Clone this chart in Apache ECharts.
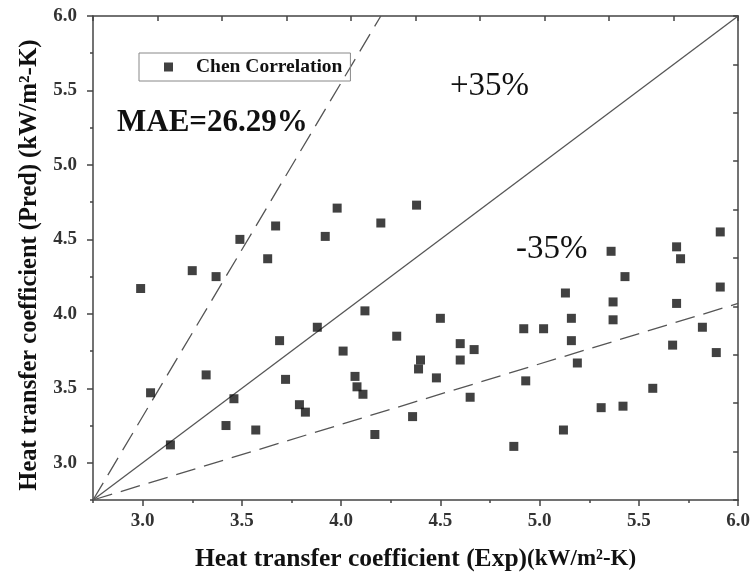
<!DOCTYPE html>
<html>
<head>
<meta charset="utf-8">
<title>Chen Correlation</title>
<script src="https://cdn.jsdelivr.net/npm/echarts@6/dist/echarts.min.js"></script>
<style>
    html, body { margin: 0; padding: 0; background: #fff; }
    #chart { width: 753px; height: 577px; }
</style>
</head>
<body>
<div id="chart"></div>
<script>
const expX = [
    2.99, 3.25, 3.37, 3.63, 3.04, 3.32, 3.14, 3.46, 3.42, 3.57,
    3.69, 3.72, 3.88, 3.79, 3.82, 4.01, 4.12, 4.07, 4.08, 4.11,
    4.17, 4.28, 4.36, 4.40, 4.39, 4.50, 4.48, 4.60, 4.60, 4.67,
    4.65, 4.92, 4.93, 5.02, 4.87, 5.13, 5.16, 5.16, 5.19, 5.12,
    5.37, 5.37, 5.31, 5.43, 5.42, 5.57, 5.69, 5.67, 5.82, 5.91,
    5.89, 4.38, 5.36, 5.69, 5.71, 5.91, 3.49, 3.67, 3.92, 3.98,
    4.20
];
const predY = [
    4.17, 4.29, 4.25, 4.37, 3.47, 3.59, 3.12, 3.43, 3.25, 3.22,
    3.82, 3.56, 3.91, 3.39, 3.34, 3.75, 4.02, 3.58, 3.51, 3.46,
    3.19, 3.85, 3.31, 3.69, 3.63, 3.97, 3.57, 3.80, 3.69, 3.76,
    3.44, 3.90, 3.55, 3.90, 3.11, 4.14, 3.97, 3.82, 3.67, 3.22,
    4.08, 3.96, 3.37, 4.25, 3.38, 3.50, 4.07, 3.79, 3.91, 4.18,
    3.74, 4.73, 4.42, 4.45, 4.37, 4.55, 4.50, 4.59, 4.52, 4.71,
    4.61
];

// reference lines (end points as drawn)
const parityLine = [[2.75, 2.75], [6.0, 6.0]];
const upperLine = [[2.75, 2.75], [4.2, 6.0]];
const lowerLine = [[2.75, 2.75], [6.0, 4.07]];

const majorTicks = [3.0, 3.5, 4.0, 4.5, 5.0, 5.5, 6.0];
const minorTicks = [2.75, 3.25, 3.75, 4.25, 4.75, 5.25, 5.75];

document.addEventListener("DOMContentLoaded", () => {
    const chart = echarts.init(document.getElementById('chart'), null, { renderer: 'canvas' });

    const serif = '"Liberation Serif", "DejaVu Serif", serif';
    const axisColor = '#444';

    const mainAxis = (pos) => ({
        type: 'value',
        position: pos,
        min: 2.75,
        max: 6.0,
        axisLine: { show: true, onZero: false, lineStyle: { color: axisColor, width: 1.5 } },
        axisTick: { show: true, inside: false, length: 6, customValues: majorTicks, lineStyle: { color: axisColor, width: 1.5 } },
        axisLabel: {
            show: true,
            customValues: majorTicks,
            formatter: (v) => v.toFixed(1),
            fontFamily: serif,
            fontWeight: 'bold',
            fontSize: 19,
            color: '#333',
            margin: pos === 'left' ? 16 : 12
        },
        splitLine: { show: false }
    });

    const minorAxis = (pos) => ({
        type: 'value',
        position: pos,
        min: 2.75,
        max: 6.0,
        axisLine: { show: false, onZero: false },
        axisTick: { show: true, inside: false, length: 3, customValues: minorTicks, lineStyle: { color: axisColor, width: 1.5 } },
        axisLabel: { show: false },
        splitLine: { show: false }
    });

    // top / right frame: 10 equal divisions, ticks inward
    const frameAxis = (pos) => ({
        type: 'value',
        position: pos,
        min: 0,
        max: 10,
        interval: 1,
        axisLine: { show: true, onZero: false, lineStyle: { color: axisColor, width: 1.5 } },
        axisTick: { show: true, inside: true, length: 5, lineStyle: { color: axisColor, width: 1.5 } },
        axisLabel: { show: false },
        splitLine: { show: false }
    });

    const xMain = mainAxis('bottom');
    xMain.name = '{a|Heat transfer coefficient (Exp)}{b|(kW/m²-K)}';
    xMain.nameLocation = 'middle';
    xMain.nameGap = 46;
    xMain.nameTextStyle = {
        fontFamily: serif,
        fontWeight: 'bold',
        color: '#111',
        rich: {
            a: { fontFamily: serif, fontWeight: 'bold', fontSize: 25.5, color: '#111' },
            b: { fontFamily: serif, fontWeight: 'bold', fontSize: 23, color: '#111' }
        }
    };

    const yMain = mainAxis('left');
    yMain.name = '{a|Heat transfer coefficient (Pred)}  {b|(kW/m²-K)}';
    yMain.nameLocation = 'middle';
    yMain.nameGap = 40;
    yMain.nameTextStyle = {
        fontFamily: serif,
        fontWeight: 'bold',
        color: '#111',
        padding: [0, 14, 0, 0],
        rich: {
            a: { fontFamily: serif, fontWeight: 'bold', fontSize: 24.5, color: '#111' },
            b: { fontFamily: serif, fontWeight: 'bold', fontSize: 25, color: '#111' }
        }
    };

    const refStyle = (type) => ({ color: '#555', width: 1.3, type: type });

    const option = {
        backgroundColor: '#fff',
        animation: false,
        grid: { left: 93, right: 14, top: 16, bottom: 76, containLabel: false },
        legend: {
            data: ['Chen Correlation'],
            left: 139,
            top: 53,
            orient: 'horizontal',
            icon: 'rect',
            itemWidth: 9,
            itemHeight: 9,
            itemGap: 0,
            padding: [4, 8, 4, 25],
            borderColor: '#888',
            borderWidth: 1,
            textStyle: { fontFamily: serif, fontWeight: 'bold', fontSize: 19.5, color: '#111', padding: [0, 0, 0, 18] }
        },
        xAxis: [xMain, minorAxis('bottom'), frameAxis('top')],
        yAxis: [yMain, minorAxis('left'), frameAxis('right')],
        graphic: [
            {
                type: 'text', left: 117, top: 107,
                style: { text: 'MAE=26.29%', font: 'bold 31px ' + serif, fill: '#111' }
            },
            {
                type: 'text', left: 450, top: 70,
                style: { text: '+35%', font: '33px ' + serif, fill: '#111' }
            },
            {
                type: 'text', left: 516, top: 233,
                style: { text: '-35%', font: '33px ' + serif, fill: '#111' }
            }
        ],
        series: [
            {
                name: 'parity', type: 'line', xAxisIndex: 0, yAxisIndex: 0,
                data: parityLine, symbol: 'none', lineStyle: refStyle('solid'), z: 1
            },
            {
                name: '+35', type: 'line', xAxisIndex: 0, yAxisIndex: 0,
                data: upperLine, symbol: 'none', lineStyle: refStyle([20, 9]), z: 1
            },
            {
                name: '-35', type: 'line', xAxisIndex: 0, yAxisIndex: 0,
                data: lowerLine, symbol: 'none', lineStyle: refStyle([20, 9]), z: 1
            },
            {
                name: 'Chen Correlation', type: 'scatter', xAxisIndex: 0, yAxisIndex: 0,
                symbol: 'rect', symbolSize: 9,
                itemStyle: { color: '#111' },
                data: expX.map((x, i) => [x, predY[i]]),
                z: 3
            }
        ]
    };

    chart.setOption(option);
});
</script>
</body>
</html>
